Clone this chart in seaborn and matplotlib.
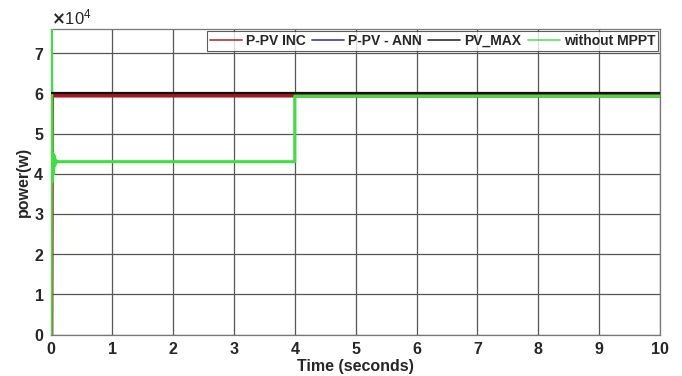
import pandas as pd
import matplotlib
matplotlib.use('Agg')
import matplotlib.pyplot as plt
import matplotlib.ticker as mticker
import seaborn as sns

# values (power in W, time in s)
t_inc = [0.0, 0.01, 10.0]
p_inc = [0.0, 59500, 59500]

t_ann = [0.0, 0.01, 10.0]
p_ann = [0.0, 59900, 59900]

t_max = [0.0, 0.01, 10.0]
p_max = [60000, 60000, 60000]

t_nompt = [0.0, 0.005, 0.01, 0.02, 0.03, 0.04, 0.05, 0.06, 0.07, 0.08, 0.1, 4.0, 4.0, 10.0]
p_nompt = [0.0, 76000, 60000, 38000, 45000, 40000, 44500, 42000, 43500, 42800, 43000, 43000, 59300, 59300]

series_names = ['P-PV INC', 'P-PV - ANN', 'PV_MAX', 'without MPPT']
series_colors = ['#a8161f', '#1f1f9a', '#111111', '#3ee03e']


def main():
    sns.set_style('white')
    plt.rcParams['font.family'] = ['Liberation Sans', 'DejaVu Sans']
    plt.rcParams['font.weight'] = 'bold'

    fig, ax = plt.subplots(figsize=(6.82, 3.76), dpi=100)
    fig.subplots_adjust(left=0.075, right=0.968, top=0.923, bottom=0.11)

    data = [(t_inc, p_inc), (t_ann, p_ann), (t_max, p_max), (t_nompt, p_nompt)]
    widths = [3.2, 2.2, 1.6, 2.2]
    order = [1, 0, 3, 2]  # drawing order: blue, red, green, black on top
    for i in order:
        t, p = data[i]
        sns.lineplot(x=t, y=p, ax=ax, color=series_colors[i], label=series_names[i],
                     estimator=None, sort=False, linewidth=widths[i],
                     zorder=3 + order.index(i))

    ax.set_xlim(0, 10)
    ax.set_ylim(0, 76000)
    ax.set_xticks(range(0, 11))
    ax.set_yticks(range(0, 70001, 10000))
    fmt = mticker.ScalarFormatter(useMathText=True)
    fmt.set_powerlimits((4, 4))
    ax.yaxis.set_major_formatter(fmt)
    ax.yaxis.get_offset_text().set_fontsize(12)
    ax.yaxis.get_offset_text().set_fontweight('normal')

    ax.grid(True, color='#555555', linewidth=0.9)
    for s in ax.spines.values():
        s.set_color('#777777')
        s.set_linewidth(0.9)
    ax.tick_params(labelsize=11.5, length=0, pad=5)
    for lab in ax.get_xticklabels() + ax.get_yticklabels():
        lab.set_fontweight('bold')

    ax.set_xlabel('Time (seconds)', fontsize=11.5, fontweight='bold', labelpad=2)
    ax.set_ylabel('power(w)', fontsize=11.5, fontweight='bold', labelpad=2)

    handles, labels = ax.get_legend_handles_labels()
    hmap = dict(zip(labels, handles))
    leg = ax.legend([hmap[n] for n in series_names], series_names, loc='upper right',
                    ncol=4, frameon=True, fancybox=False,
                    handlelength=2.3, handletextpad=0.3, columnspacing=0.45,
                    borderpad=0.2, borderaxespad=0.15,
                    prop={'weight': 'bold', 'size': 10})
    leg.get_frame().set_edgecolor('#333333')
    leg.get_frame().set_linewidth(0.8)
    for line in leg.get_lines():
        line.set_linewidth(1.3)
        line.set_alpha(0.8)

    fig.savefig('out.png', dpi=100)


if __name__ == '__main__':
    main()
